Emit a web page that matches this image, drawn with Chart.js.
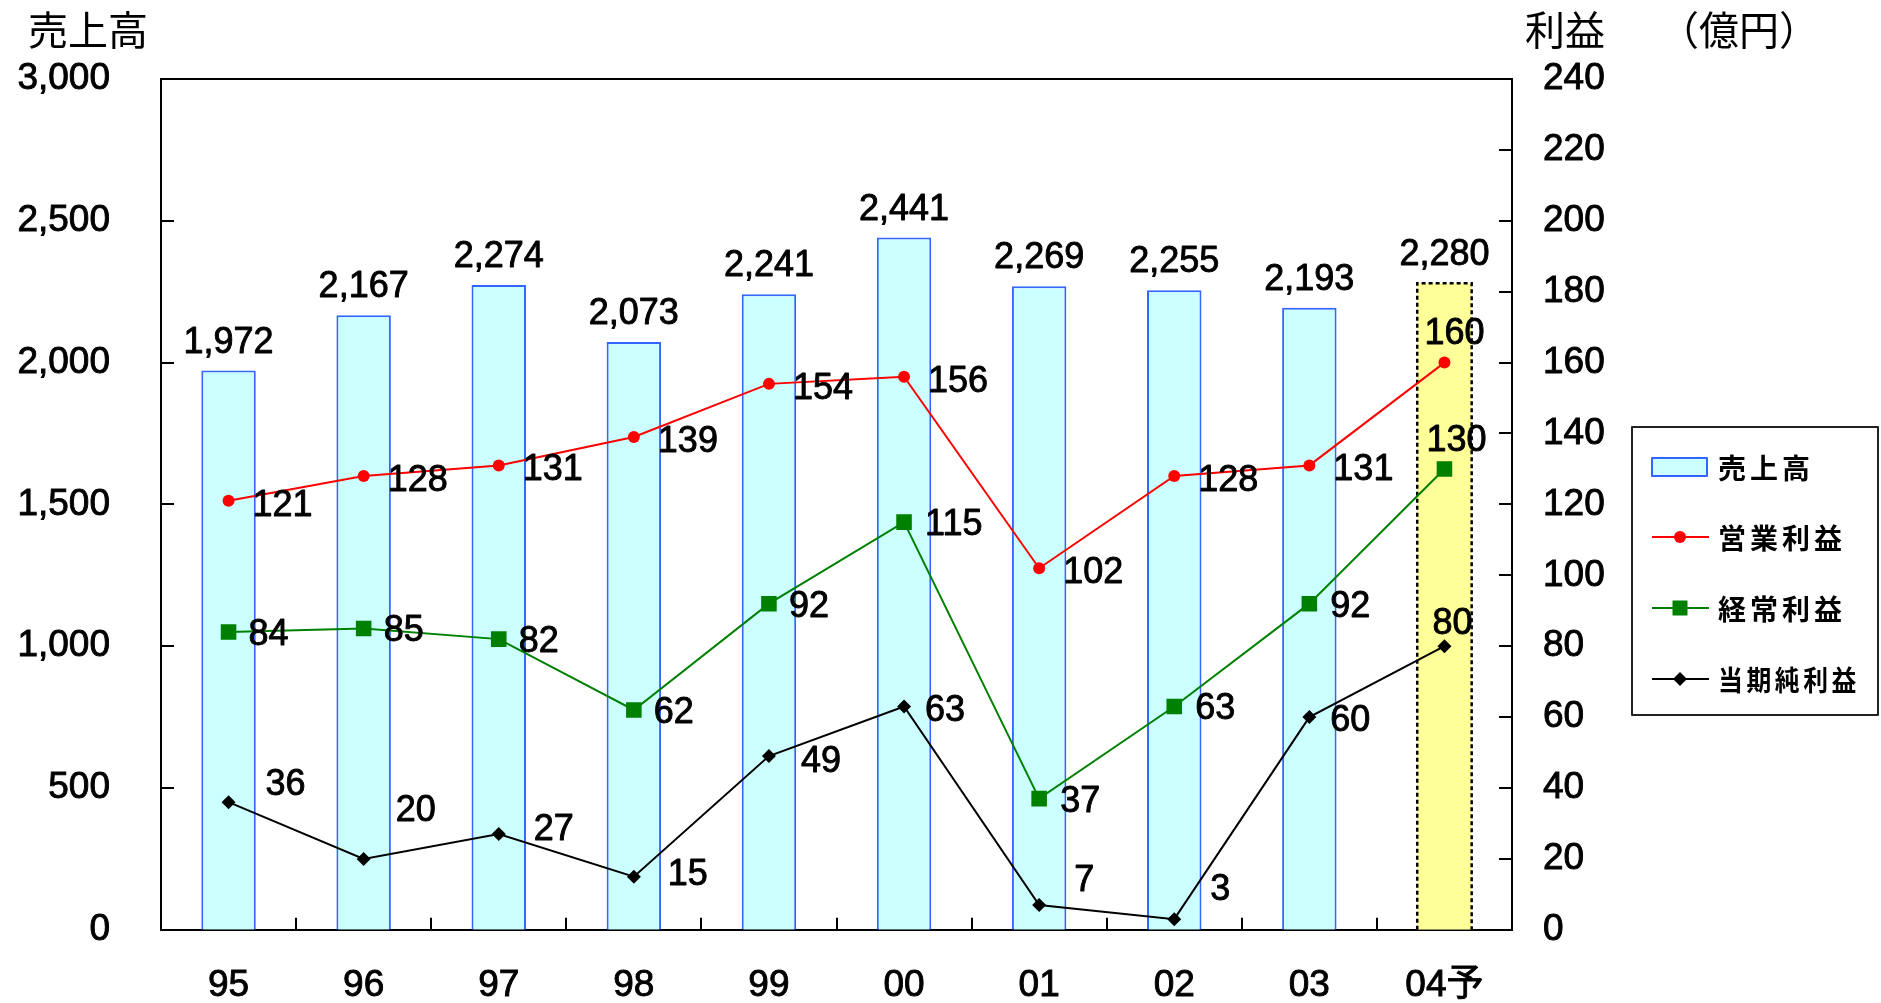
<!DOCTYPE html>
<html>
<head>
<meta charset="utf-8">
<script src="https://cdn.jsdelivr.net/npm/chart.js@4.4.1/dist/chart.umd.min.js"></script>
<style>
  html, body { margin: 0; padding: 0; background: #ffffff; }
  #wrap { width: 1881px; height: 1003px; position: relative; }
</style>
</head>
<body>
<div id="wrap"><canvas id="c" width="1881" height="1003"></canvas></div>
<script>
// Fiscal years (last one is a forecast)
const years = ['95', '96', '97', '98', '99', '00', '01', '02', '03', '04予'];
// 売上高 (left axis, 億円)
const sales = [1972, 2167, 2274, 2073, 2241, 2441, 2269, 2255, 2193, 2280];
// 営業利益 / 経常利益 / 当期純利益 (right axis, 億円)
const operatingProfit = [121, 128, 131, 139, 154, 156, 102, 128, 131, 160];
const ordinaryProfit = [84, 85, 82, 62, 92, 115, 37, 63, 92, 130];
const netProfit = [36, 20, 27, 15, 49, 63, 7, 3, 60, 80];
// Axis tick values
const salesTicks = [0, 500, 1000, 1500, 2000, 2500, 3000];
const profitTicks = [0, 20, 40, 60, 80, 100, 120, 140, 160, 180, 200, 220, 240];

// Label placement: [dx to text left edge, dy to text middle] from each point
const operatingLabelPos = [[24,5],[24,5],[24,5],[24,5],[24,5],[24,5],[24,5],[24,5],[24,5],[-20,-29]];
const ordinaryLabelPos  = [[20,3],[20,3],[20,3],[20,3],[20,3],[21,3],[21,3],[21,3],[21,3],[-18,-28]];
const netLabelPos       = [[37,-17],[32,-48],[35,-4],[34,-2],[32,6],[21,5],[35,-24],[36,-29],[21,4],[-12,-22]];

const NUM_FONT = "'Liberation Sans', Arial, 'Noto Sans CJK JP', sans-serif";
const JP_FONT = "'Noto Sans CJK JP', 'Noto Sans', sans-serif";
const FORECAST = years.length - 1;
const TEXT_STROKE = 0.9;

const fmt = v => v.toLocaleString('en-US');

function boldText(ctx, s, x, y) {
  ctx.strokeText(s, x, y);
  ctx.fillText(s, x, y);
}

const decor = {
  id: 'decor',
  beforeDraw(chart) {
    const ctx = chart.ctx;
    ctx.save();
    ctx.fillStyle = '#ffffff';
    ctx.fillRect(0, 0, chart.width, chart.height);
    ctx.restore();
  },
  afterDatasetDraw(chart, args) {
    if (args.index !== 0) return;
    // dotted outline of the forecast bar
    const ctx = chart.ctx;
    const bar = chart.getDatasetMeta(0).data[FORECAST];
    const p = bar.getProps(['x', 'y', 'base', 'width'], true);
    const l = p.x - p.width / 2, r = p.x + p.width / 2;
    ctx.save();
    ctx.strokeStyle = '#000000';
    ctx.lineWidth = 2.5;
    ctx.setLineDash([4, 3]);
    ctx.beginPath();
    ctx.moveTo(l, p.base);
    ctx.lineTo(l, p.y);
    ctx.lineTo(r, p.y);
    ctx.lineTo(r, p.base);
    ctx.stroke();
    ctx.restore();
  },
  afterDraw(chart) {
    const ctx = chart.ctx;
    const a = chart.chartArea;
    const xS = chart.scales.x, yS = chart.scales.y, y1S = chart.scales.y1;
    ctx.save();

    // frame top edge
    ctx.strokeStyle = '#000000';
    ctx.lineWidth = 2;
    ctx.beginPath();
    ctx.moveTo(a.left - 1, a.top);
    ctx.lineTo(a.right + 1, a.top);
    ctx.stroke();

    // inward tick marks
    ctx.lineWidth = 2;
    ctx.beginPath();
    yS.ticks.forEach(t => {
      const py = Math.round(yS.getPixelForValue(t.value));
      ctx.moveTo(a.left, py); ctx.lineTo(a.left + 13, py);
    });
    y1S.ticks.forEach(t => {
      const py = Math.round(y1S.getPixelForValue(t.value));
      ctx.moveTo(a.right, py); ctx.lineTo(a.right - 13, py);
    });
    for (let i = 0; i < years.length - 1; i++) {
      const px = Math.round((xS.getPixelForValue(i) + xS.getPixelForValue(i + 1)) / 2);
      ctx.moveTo(px, a.bottom); ctx.lineTo(px, a.bottom - 12);
    }
    ctx.stroke();

    // value labels
    ctx.fillStyle = '#000000';
    ctx.strokeStyle = '#000000';
    ctx.lineWidth = TEXT_STROKE;
    ctx.lineJoin = 'round';
    ctx.font = '36px ' + NUM_FONT;
    ctx.textAlign = 'center';
    ctx.textBaseline = 'alphabetic';
    chart.getDatasetMeta(0).data.forEach((bar, i) => {
      boldText(ctx, fmt(sales[i]), bar.x, bar.y - 18);
    });
    ctx.textAlign = 'left';
    ctx.textBaseline = 'middle';
    const lineSets = [
      [1, operatingProfit, operatingLabelPos],
      [2, ordinaryProfit, ordinaryLabelPos],
      [3, netProfit, netLabelPos]
    ];
    lineSets.forEach(([di, vals, pos]) => {
      chart.getDatasetMeta(di).data.forEach((pt, i) => {
        boldText(ctx, String(vals[i]), pt.x + pos[i][0], pt.y + pos[i][1]);
      });
    });

    // axis captions
    ctx.font = '40px ' + JP_FONT;
    ctx.textBaseline = 'middle';
    ctx.fillText('売上高', 28, 30);
    ctx.fillText('利益', 1525, 30);
    ctx.fillText('（億円）', 1659, 30);

    // legend
    const lx = 1632, ly = 427, lw = 246, lh = 288;
    ctx.strokeStyle = '#222222';
    ctx.lineWidth = 2;
    ctx.strokeRect(lx, ly, lw, lh);
    const rowY = [467, 537, 608, 679];
    const symL = 1652, symR = 1709, symC = 1680;
    // 売上高 swatch
    ctx.fillStyle = '#CCFFFF';
    ctx.fillRect(symL, rowY[0] - 9, 55, 18);
    ctx.strokeStyle = '#3366FF';
    ctx.lineWidth = 2;
    ctx.strokeRect(symL, rowY[0] - 9, 55, 18);
    // line swatches
    const sw = [
      ['#FF0000', 'circle'],
      ['#008000', 'rect'],
      ['#000000', 'rectRot']
    ];
    sw.forEach(([col, style], k) => {
      const y = rowY[k + 1];
      ctx.strokeStyle = col;
      ctx.lineWidth = 2;
      ctx.beginPath();
      ctx.moveTo(symL, y); ctx.lineTo(symR, y);
      ctx.stroke();
      ctx.fillStyle = col;
      ctx.beginPath();
      if (style === 'circle') {
        ctx.arc(symC, y, 6, 0, Math.PI * 2);
      } else if (style === 'rect') {
        ctx.rect(symC - 7.5, y - 7.5, 15, 15);
      } else {
        ctx.moveTo(symC, y - 7); ctx.lineTo(symC + 7, y);
        ctx.lineTo(symC, y + 7); ctx.lineTo(symC - 7, y);
        ctx.closePath();
      }
      ctx.fill();
    });
    const names = ['売上高', '営業利益', '経常利益', '当期純利益'];
    ctx.fillStyle = '#000000';
    ctx.font = 'bold 28px ' + JP_FONT;
    ctx.textBaseline = 'middle';
    ctx.textAlign = 'left';
    ctx.letterSpacing = '4px';
    names.forEach((n, k) => {
      ctx.fillText(n, 1718, rowY[k] + 1, 142);
    });
    ctx.letterSpacing = '0px';
    ctx.restore();
  }
};

const axisFont = { family: NUM_FONT, size: 37 };

new Chart(document.getElementById('c'), {
  data: {
    labels: years,
    datasets: [
      {
        type: 'bar',
        label: '売上高',
        data: sales,
        yAxisID: 'y',
        order: 10,
        backgroundColor: c => c.dataIndex === FORECAST ? '#FFFF99' : '#CCFFFF',
        borderColor: '#3366FF',
        borderWidth: c => c.dataIndex === FORECAST ? 0 : 2,
        borderSkipped: 'start',
        barPercentage: 0.403,
        categoryPercentage: 1.0
      },
      {
        type: 'line',
        label: '営業利益',
        data: operatingProfit,
        yAxisID: 'y1',
        order: 3,
        borderColor: '#FF0000',
        borderWidth: 2,
        pointStyle: 'circle',
        pointRadius: 6,
        pointBackgroundColor: '#FF0000',
        pointBorderColor: '#FF0000',
        pointBorderWidth: 0,
        tension: 0,
        fill: false
      },
      {
        type: 'line',
        label: '経常利益',
        data: ordinaryProfit,
        yAxisID: 'y1',
        order: 2,
        borderColor: '#008000',
        borderWidth: 2,
        pointStyle: 'rect',
        pointRadius: 11,
        pointBackgroundColor: '#008000',
        pointBorderColor: '#008000',
        pointBorderWidth: 0,
        tension: 0,
        fill: false
      },
      {
        type: 'line',
        label: '当期純利益',
        data: netProfit,
        yAxisID: 'y1',
        order: 1,
        borderColor: '#000000',
        borderWidth: 2,
        pointStyle: 'rectRot',
        pointRadius: 7,
        pointBackgroundColor: '#000000',
        pointBorderColor: '#000000',
        pointBorderWidth: 0,
        tension: 0,
        fill: false
      }
    ]
  },
  options: {
    responsive: false,
    animation: false,
    devicePixelRatio: 1,
    layout: { padding: { top: 79, right: 229, bottom: 0, left: 0 } },
    plugins: {
      legend: { display: false },
      tooltip: { enabled: false }
    },
    scales: {
      x: {
        type: 'category',
        offset: true,
        grid: { display: false, drawTicks: false, offset: true },
        border: { display: true, color: '#000000', width: 2 },
        ticks: { font: axisFont, color: '#000000', padding: 34, autoSkip: false, maxRotation: 0,
                 textStrokeWidth: TEXT_STROKE, textStrokeColor: '#000000' },
        afterFit(s) { s.height = 72; }
      },
      y: {
        type: 'linear',
        position: 'left',
        min: 0,
        max: 3000,
        afterBuildTicks(s) { s.ticks = salesTicks.map(v => ({ value: v })); },
        grid: { display: false, drawTicks: false },
        border: { display: true, color: '#000000', width: 2 },
        ticks: { font: axisFont, color: '#000000', padding: 51, callback: v => fmt(v),
                 textStrokeWidth: TEXT_STROKE, textStrokeColor: '#000000' },
        afterFit(s) { s.width = 161; }
      },
      y1: {
        type: 'linear',
        position: 'right',
        min: 0,
        max: 240,
        afterBuildTicks(s) { s.ticks = profitTicks.map(v => ({ value: v })); },
        grid: { display: false, drawTicks: false },
        border: { display: true, color: '#000000', width: 2 },
        ticks: { font: axisFont, color: '#000000', padding: 31, callback: v => String(v),
                 textStrokeWidth: TEXT_STROKE, textStrokeColor: '#000000' },
        afterFit(s) { s.width = 140; }
      }
    }
  },
  plugins: [decor]
});
</script>
</body>
</html>
